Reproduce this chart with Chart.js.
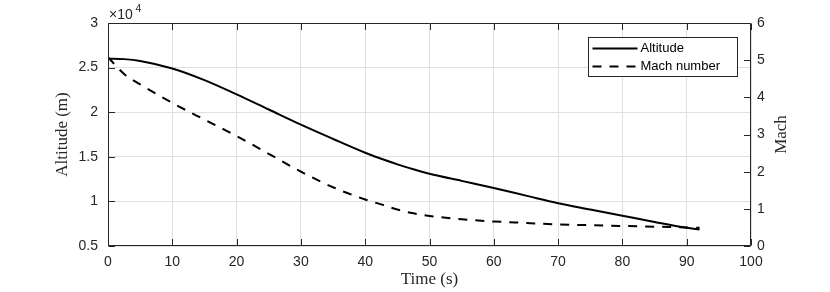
<!DOCTYPE html>
<html>
<head>
<meta charset="utf-8">
<script src="https://cdn.jsdelivr.net/npm/chart.js@4/dist/chart.umd.min.js"></script>
<style>
  body { margin: 0; background: #fff; }
  canvas { display: block; }
</style>
</head>
<body>
<canvas id="zeChart" width="830" height="292"></canvas>
<script>
// values
var timeSec   = [0, 2.5, 5, 10, 15, 20, 25, 30, 35, 40, 42.5, 45, 47.5, 50, 55, 60, 65, 70, 75, 80, 85, 90, 92];
var altitudeM = [26000, 25950, 25750, 24900, 23600, 22000, 20300, 18600, 17000, 15450, 14780, 14150, 13600, 13100, 12300, 11500, 10650, 9800, 9100, 8400, 7700, 7050, 6850];
var machNum   = [5.08, 4.63, 4.35, 3.85, 3.40, 2.96, 2.48, 2.00, 1.58, 1.25, 1.12, 0.98, 0.88, 0.81, 0.72, 0.66, 0.62, 0.58, 0.56, 0.54, 0.52, 0.50, 0.49];

var timeTicks = [0, 10, 20, 30, 40, 50, 60, 70, 80, 90, 100];
var altTicks  = [5000, 10000, 15000, 20000, 25000, 30000];
var machTicks = [0, 1, 2, 3, 4, 5, 6];

var seriesNames = ["Altitude", "Mach number"];

var axisCol = "#262626";
var gridCol = "#dfdfdf";
var sans = "'Liberation Sans', Arial, sans-serif";
var serif = "'Liberation Serif', 'Times New Roman', serif";

function pts(ys) {
    return timeSec.map(function (t, i) { return { x: t, y: ys[i] }; });
}

function setTicks(arr) {
    return function (scale) {
        scale.ticks = arr.map(function (v) { return { value: v }; });
    };
}

// box, inward tick marks, legend, axis titles
var frame = {
    id: "frame",
    afterDatasetsDraw: function (chart) {
        var ctx = chart.ctx, a = chart.chartArea, s = chart.scales;
        var L = Math.round(a.left) + 0.5, R = Math.round(a.right) - 0.5;
        var T = Math.round(a.top) + 0.5, B = Math.round(a.bottom) - 0.5;
        var tl = 6.5;
        ctx.save();
        ctx.strokeStyle = axisCol;
        ctx.lineWidth = 1;
        ctx.beginPath();
        ctx.rect(L, T, R - L, B - T);
        timeTicks.forEach(function (v) {
            var px = Math.round(s.x.getPixelForValue(v)) + 0.5;
            ctx.moveTo(px, B); ctx.lineTo(px, B - tl);
            ctx.moveTo(px, T); ctx.lineTo(px, T + tl);
        });
        altTicks.forEach(function (v) {
            var py = Math.round(s.yAlt.getPixelForValue(v)) + 0.5;
            ctx.moveTo(L, py); ctx.lineTo(L + tl, py);
        });
        machTicks.forEach(function (v) {
            var py = Math.round(s.yMach.getPixelForValue(v)) + 0.5;
            ctx.moveTo(R, py); ctx.lineTo(R - tl, py);
        });
        ctx.stroke();

        // legend
        var lx = 588.5, ly = 37.5, lw = 149, lh = 39;
        ctx.fillStyle = "#fff";
        ctx.fillRect(lx, ly, lw, lh);
        ctx.strokeRect(lx, ly, lw, lh);
        ctx.font = "13px " + sans;
        ctx.textBaseline = "middle";
        ctx.textAlign = "left";
        chart.data.datasets.forEach(function (ds, i) {
            var yy = ly + 11 + i * 18;
            ctx.save();
            ctx.strokeStyle = "#000";
            ctx.lineWidth = 2;
            ctx.setLineDash(ds.borderDash || []);
            ctx.beginPath();
            ctx.moveTo(lx + 4, yy); ctx.lineTo(lx + 49, yy);
            ctx.stroke();
            ctx.restore();
            ctx.fillStyle = "#000";
            ctx.fillText(ds.label, lx + 52, yy);
        });

        // titles
        var midY = (a.top + a.bottom) / 2;
        ctx.fillStyle = axisCol;
        ctx.font = "17px " + serif;
        ctx.textAlign = "center";
        ctx.fillText("Time (s)", (a.left + a.right) / 2, 280);
        ctx.save();
        ctx.translate(63, midY);
        ctx.rotate(-Math.PI / 2);
        ctx.fillText("Altitude (m)", 0, 0);
        ctx.restore();
        ctx.save();
        ctx.translate(782, midY);
        ctx.rotate(-Math.PI / 2);
        ctx.fillText("Mach", 0, 0);
        ctx.restore();

        // exponent
        ctx.textAlign = "left";
        ctx.font = "14px " + sans;
        ctx.fillText("\u00d710", 109, 15);
        ctx.font = "10.5px " + sans;
        ctx.fillText("4", 135.5, 9);
        ctx.restore();
    }
};

new Chart(document.getElementById("zeChart"), {
    type: "line",
    data: {
        datasets: [
            {
                label: seriesNames[0],
                data: pts(altitudeM),
                yAxisID: "yAlt",
                borderColor: "#000",
                borderWidth: 2,
                pointRadius: 0,
                cubicInterpolationMode: "monotone",
            },
            {
                label: seriesNames[1],
                data: pts(machNum),
                yAxisID: "yMach",
                borderColor: "#000",
                borderWidth: 2,
                borderDash: [9, 8],
                pointRadius: 0,
                cubicInterpolationMode: "monotone",
            },
        ],
    },
    options: {
        responsive: false,
        animation: false,
        devicePixelRatio: 1,
        layout: { padding: { top: 23, left: 0, right: 0, bottom: 0 } },
        plugins: {
            legend: { display: false },
            tooltip: { enabled: false },
        },
        scales: {
            x: {
                type: "linear",
                min: 0,
                max: 100,
                afterBuildTicks: setTicks(timeTicks),
                afterFit: function (scale) { scale.height = 46; },
                grid: { color: gridCol, drawTicks: false },
                border: { display: false },
                ticks: {
                    padding: 8,
                    maxRotation: 0,
                    color: axisCol,
                    font: { family: sans, size: 14 },
                },
            },
            yAlt: {
                type: "linear",
                position: "left",
                min: 5000,
                max: 30000,
                afterBuildTicks: setTicks(altTicks),
                afterFit: function (scale) { scale.width = 108; },
                grid: { color: gridCol, drawTicks: false },
                border: { display: false },
                ticks: {
                    padding: 10,
                    color: axisCol,
                    font: { family: sans, size: 14 },
                    callback: function (v) { return String(v / 10000); },
                },
            },
            yMach: {
                type: "linear",
                position: "right",
                min: 0,
                max: 6,
                afterBuildTicks: setTicks(machTicks),
                afterFit: function (scale) { scale.width = 79; },
                grid: { drawOnChartArea: false, drawTicks: false },
                border: { display: false },
                ticks: {
                    padding: 6,
                    color: axisCol,
                    font: { family: sans, size: 14 },
                },
            },
        },
    },
    plugins: [frame],
});
</script>
</body>
</html>
